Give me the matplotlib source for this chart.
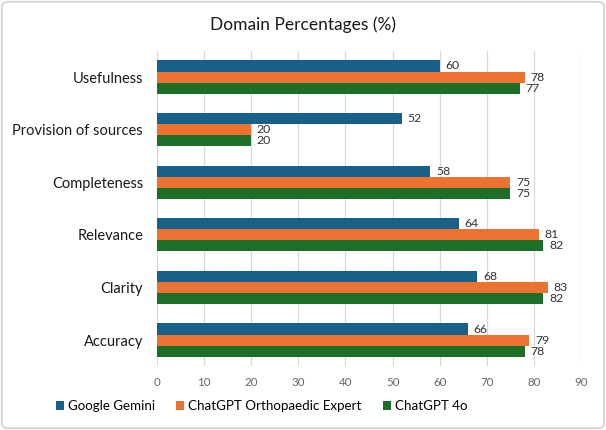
import numpy as np
import matplotlib.pyplot as plt
from matplotlib.patches import FancyBboxPatch

categories = ['Usefulness', 'Provision of sources', 'Completeness', 'Relevance', 'Clarity', 'Accuracy']
gemini = [60, 52, 58, 64, 68, 66]
ortho_expert = [78, 20, 75, 81, 83, 79]
gpt4o = [77, 20, 75, 82, 82, 78]
series_names = ['Google Gemini', 'ChatGPT Orthopaedic Expert', 'ChatGPT 4o']
colors = ['#17608a', '#ec7232', '#1d6e27']
xticks = list(range(0, 100, 10))

plt.rcParams['font.family'] = ['Lato', 'DejaVu Sans']

fig = plt.figure(figsize=(6.06, 4.30), dpi=100)
ax = fig.add_axes([0.259, 0.148, 0.700, 0.734])

# light rounded frame around the whole chart
frame = FancyBboxPatch((0.003, 0.004), 0.994, 0.992, boxstyle='round,pad=0,rounding_size=0.012',
                       transform=fig.transFigure, facecolor='none', edgecolor='#d0d0d0', linewidth=1.2)
fig.patches.append(frame)

y = np.arange(len(categories))[::-1]
h = 0.21
for i, (vals, name, c) in enumerate(zip([gemini, ortho_expert, gpt4o], series_names, colors)):
    pos = y + (1 - i) * h
    bars = ax.barh(pos, vals, height=h, color=c, label=name, zorder=3)
    for b, v in zip(bars, vals):
        ax.text(v + 1.2, b.get_y() + b.get_height() / 2, str(v), va='center', ha='left',
                fontsize=8.8, color='#333333')

ax.set_xlim(0, 90)
ax.set_ylim(-0.5, len(categories) - 0.5)
ax.set_xticks(xticks)
ax.set_yticks(y)
ax.set_yticklabels(categories, fontsize=10.5, color='#1a1a1a')
ax.tick_params(axis='x', labelsize=8.3, colors='#666666', length=0, pad=8)
ax.tick_params(axis='y', length=0, pad=10)
ax.grid(axis='x', color='#d9d9d9', linewidth=0.9, zorder=0)
for s in ax.spines.values():
    s.set_visible(False)

ax.set_title('Domain Percentages (%)', fontsize=12.5, color='#1a1a1a', pad=15,
             x=(303 - 157) / (581 - 157))

fig.legend(loc='center', bbox_to_anchor=(0.432, 0.055), ncol=3, frameon=False, fontsize=9.6,
           handlelength=0.6, handleheight=0.6, handletextpad=0.3, columnspacing=1.6)

fig.savefig('out.png', dpi=100)
